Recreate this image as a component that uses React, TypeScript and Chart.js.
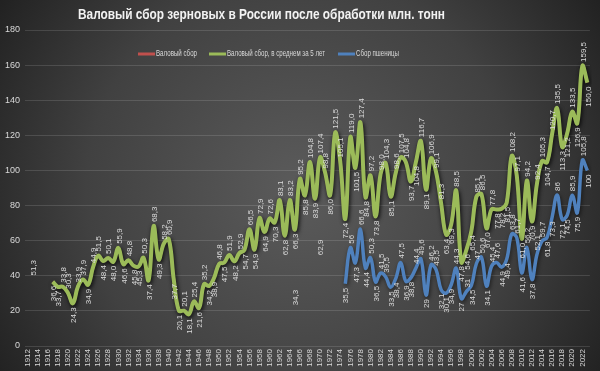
import { useEffect, useRef } from "react";
import { Chart, registerables } from "chart.js";

Chart.register(...registerables);

const years: string[] = [
  "1912", "1913", "1914", "1915", "1916", "1917", "1918", "1919", "1920", "1921",
  "1922", "1923", "1924", "1925", "1926", "1927", "1928", "1929", "1930", "1931",
  "1932", "1933", "1934", "1935", "1936", "1937", "1938", "1939", "1940", "1941",
  "1942", "1943", "1944", "1945", "1946", "1947", "1948", "1949", "1950", "1951",
  "1952", "1953", "1954", "1955", "1956", "1957", "1958", "1959", "1960", "1961",
  "1962", "1963", "1964", "1965", "1966", "1967", "1968", "1969", "1970", "1971",
  "1972", "1973", "1974", "1975", "1976", "1977", "1978", "1979", "1980", "1981",
  "1982", "1983", "1984", "1985", "1986", "1987", "1988", "1989", "1990", "1991",
  "1992", "1993", "1994", "1995", "1996", "1997", "1998", "1999", "2000", "2001",
  "2002", "2003", "2004", "2005", "2006", "2007", "2008", "2009", "2010", "2011",
  "2012", "2013", "2014", "2015", "2016", "2017", "2018", "2019", "2020", "2021",
  "2022", "2023",
];

// Валовый сбор зерновых, млн т (1912..2023)
const grain: (number | null)[] = [
  null, 51.3, null, null, null, 36.6, 33.7, 33.8, 30.3, 24.3,
  33.9, 37.9, 34.9, 44.9, 51.5, 48.4, 50.1, 48.0, 55.9, 46.6,
  48.8, 45.8, 45.3, 50.3, 37.4, 68.3, 49.3, 58.2, 60.9, 37.7,
  20.1, 20.1, 18.1, 25.4, 21.6, 35.2, 34.2, 38.9, 46.8, 47.5,
  51.9, 48.2, 52.9, 54.7, 66.5, 54.9, 72.9, 64.9, 72.6, 70.3,
  83.1, 62.8, 83.2, 66.3, 95.2, 85.8, 104.8, 83.9, 107.4, 98.8,
  86.0, 121.5, 105.1, 72.4, 119.0, 101.5, 127.4, 84.8, 97.2, 73.8,
  98.0, 104.3, 85.1, 98.6, 107.5, 104.8, 93.7, 104.8, 116.7, 89.1,
  106.9, 99.1, 81.3, 63.4, 69.3, 88.5, 47.8, 54.6, 65.4, 85.1,
  86.5, 67.0, 77.8, 77.8, 78.2, 81.5, 108.2, 97.1, 61.0, 94.2,
  70.9, 92.4, 105.3, 104.7, 120.7, 135.5, 113.3, 121.2, 133.5, 126.9,
  159.5, 150.0,
];

// Сбор пшеницы, млн т (1912..2023)
const wheat: (number | null)[] = [
  null, null, null, null, null, null, null, null, null, null,
  null, null, null, null, null, null, null, null, null, null,
  null, null, null, null, null, null, null, null, null, null,
  null, null, null, null, null, null, null, null, null, null,
  null, null, null, null, null, null, null, null, null, null,
  null, null, null, 34.3, null, null, null, null, 62.9, null,
  null, null, null, 35.5, 56, 47.3, 66.6, 44.4, 50.3, 36.5,
  41.5, 39.5, 33.5, 38.4, 47.5, 36.9, 38.8, 44.4, 49.6, 29,
  46.2, 43.5, 32.1, 30.1, 34.9, 44.3, 27, 31, 34.5, 47,
  50.6, 34.1, 45.4, 47.6, 44.9, 49.4, 63.8, 61.7, 41.6, 56.2,
  37.8, 52.1, 59.7, 61.8, 73.3, 86, 72.1, 74.5, 85.9, 75.9,
  105.8, 100,
];

const yTicks: number[] = [0, 20, 40, 60, 80, 100, 120, 140, 160, 180];

const TITLE = "Валовый сбор зерновых в России после обработки млн. тонн";
const seriesNames: string[] = [
  "Валовый сбор",
  "Валовый сбор, в среднем за 5 лет",
  "Сбор пшеницы",
];
const seriesColors: string[] = ["#c0504d", "#9bbb59", "#4f81bd"];

const FONT = '"Liberation Sans", "DejaVu Sans", sans-serif';

function fmtGrain(v: number): string {
  return v.toFixed(1).replace(".", ",");
}
function fmtWheat(v: number): string {
  return Number.isInteger(v) ? String(v) : v.toFixed(1).replace(".", ",");
}

const bgPlugin = {
  id: "bg",
  beforeDraw(chart: any) {
    const { ctx, width, height } = chart;
    ctx.save();
    const g = ctx.createRadialGradient(300, 190, 10, 300, 190, 380);
    g.addColorStop(0, "#5a5a5a");
    g.addColorStop(0.55, "#414141");
    g.addColorStop(1, "#1c1c1c");
    ctx.fillStyle = g;
    ctx.fillRect(0, 0, width, height);
    ctx.restore();
  },
};

const shadowPlugin = {
  id: "lineShadow",
  beforeDatasetDraw(chart: any) {
    const ctx = chart.ctx;
    ctx.save();
    ctx.shadowColor = "rgba(0,0,0,0.55)";
    ctx.shadowBlur = 4;
    ctx.shadowOffsetX = 1;
    ctx.shadowOffsetY = 2;
  },
  afterDatasetDraw(chart: any) {
    chart.ctx.restore();
  },
};

const labelsPlugin = {
  id: "rotLabels",
  afterDatasetsDraw(chart: any) {
    const ctx = chart.ctx;
    ctx.save();
    ctx.font = `8px ${FONT}`;
    ctx.fillStyle = "#dcdcdc";
    ctx.textAlign = "center";
    ctx.textBaseline = "middle";
    const drawSet = (dsIndex: number, data: (number | null)[], fmt: (v: number) => string) => {
      const meta = chart.getDatasetMeta(dsIndex);
      data.forEach((v, i) => {
        if (v == null) return;
        const pt = meta.data[i];
        if (!pt) return;
        const txt = fmt(v);
        const w = ctx.measureText(txt).width;
        const prev = i > 0 ? data[i - 1] : null;
        const next = i < data.length - 1 ? data[i + 1] : null;
        let above: boolean;
        if (prev == null && next == null) above = false;
        else if (prev == null) above = false;
        else if (next == null) above = v >= prev;
        else above = v >= (prev + next) / 2;
        const off = w / 2 + 4;
        const x = pt.x + 1;
        const y = above ? pt.y - off : pt.y + off;
        ctx.save();
        ctx.translate(x, y);
        ctx.rotate(-Math.PI / 2);
        ctx.fillText(txt, 0, 0);
        ctx.restore();
      });
    };
    drawSet(1, grain, fmtGrain);
    drawSet(2, wheat, fmtWheat);
    ctx.restore();
  },
};

const titleLegendPlugin = {
  id: "titleLegend",
  afterDraw(chart: any) {
    const ctx = chart.ctx;
    ctx.save();
    ctx.fillStyle = "#f2f2f2";
    ctx.textAlign = "center";
    ctx.textBaseline = "middle";
    ctx.font = `bold 14px ${FONT}`;
    ctx.fillText(TITLE, 261.5, 15, 367);

    const items = [
      { lx: 138, tx: 156, tw: 41 },
      { lx: 209, tx: 227, tw: 98 },
      { lx: 338, tx: 356, tw: 43 },
    ];
    ctx.font = `9px ${FONT}`;
    ctx.textAlign = "left";
    items.forEach((it, k) => {
      ctx.strokeStyle = seriesColors[k];
      ctx.lineWidth = 3;
      ctx.beginPath();
      ctx.moveTo(it.lx, 54);
      ctx.lineTo(it.lx + 17, 54);
      ctx.stroke();
      ctx.fillStyle = "#d9d9d9";
      ctx.fillText(seriesNames[k], it.tx, 54, it.tw);
    });
    ctx.restore();
  },
};

export default function App() {
  const ref = useRef<HTMLCanvasElement | null>(null);

  useEffect(() => {
    if (!ref.current) return;
    const chart = new Chart(ref.current, {
      type: "line",
      data: {
        labels: years,
        datasets: [
          {
            label: seriesNames[0],
            data: grain,
            borderColor: seriesColors[0],
            borderWidth: 3,
            pointRadius: 0,
            tension: 0.4,
            spanGaps: false,
            order: 3,
          },
          {
            label: seriesNames[1],
            data: grain,
            borderColor: seriesColors[1],
            borderWidth: 4,
            pointRadius: 0,
            tension: 0.4,
            spanGaps: false,
            order: 2,
          },
          {
            label: seriesNames[2],
            data: wheat,
            borderColor: seriesColors[2],
            borderWidth: 3.5,
            pointRadius: 0,
            tension: 0.4,
            spanGaps: false,
            order: 1,
          },
        ],
      },
      options: {
        animation: false,
        responsive: false,
        devicePixelRatio: 1,
        layout: { padding: { top: 30, right: 5, left: 0, bottom: 0 } },
        plugins: {
          legend: { display: false },
          title: { display: false },
          tooltip: { enabled: false },
        },
        scales: {
          x: {
            type: "category",
            offset: true,
            grid: { display: false, drawTicks: false },
            border: { display: false },
            ticks: {
              color: "#d9d9d9",
              font: { size: 8, family: FONT },
              minRotation: 90,
              maxRotation: 90,
              autoSkip: false,
              padding: 3,
              callback: (_v: any, i: number) => (i % 2 === 0 ? years[i] : ""),
            },
            afterFit: (s: any) => {
              s.height = 25;
            },
          },
          y: {
            min: 0,
            max: 180,
            afterBuildTicks: (s: any) => {
              s.ticks = yTicks.map((v) => ({ value: v }));
            },
            grid: { color: "rgba(255,255,255,0.13)", drawTicks: false, lineWidth: 1 },
            border: { display: false },
            ticks: {
              color: "#d9d9d9",
              font: { size: 9, family: FONT },
              padding: 5,
            },
            afterFit: (s: any) => {
              s.width = 25;
            },
          },
        },
      },
      plugins: [bgPlugin, shadowPlugin, labelsPlugin, titleLegendPlugin],
    });
    return () => chart.destroy();
  }, []);

  return (
    <div style={{ position: "absolute", left: 0, top: 0, width: 600, height: 371 }}>
      <canvas ref={ref} width={600} height={371} style={{ width: 600, height: 371 }} />
    </div>
  );
}
